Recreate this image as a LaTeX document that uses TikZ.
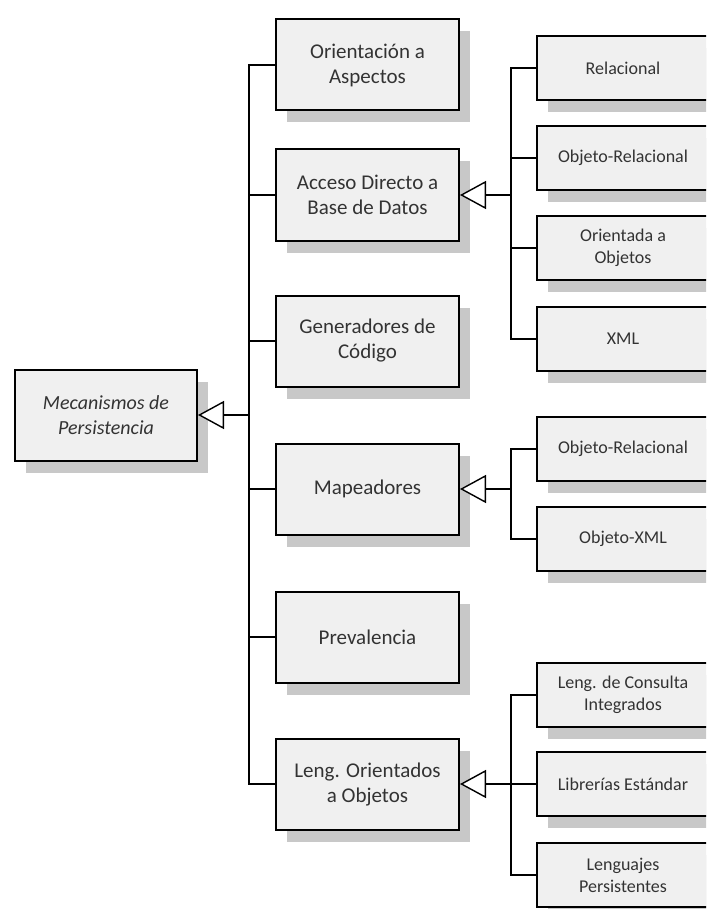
\documentclass[tikz,border=0pt]{standalone}
\usepackage{fontspec}
\setmainfont{Carlito}
\usetikzlibrary{arrows.meta,shadows}
\definecolor{boxfill}{HTML}{F0F0F0}
\definecolor{shadowgray}{HTML}{C8C8C8}
\definecolor{txt}{HTML}{333333}
\tikzset{
  basebox/.style={draw=black, line width=2pt, fill=boxfill, text=txt, align=center,
    inner sep=0pt,
    drop shadow={shadow xshift=11pt, shadow yshift=-12pt, fill=shadowgray, opacity=1}},
  rootbox/.style={basebox, minimum width=182pt, minimum height=91pt,
    font=\fontsize{20}{25}\selectfont\itshape},
  midbox/.style={basebox, minimum width=183pt, minimum height=91pt,
    font=\fontsize{21}{25}\selectfont},
  leafbox/.style={basebox, minimum width=172pt, minimum height=64pt,
    font=\fontsize{18}{22}\selectfont},
  wire/.style={line width=2pt, draw=black},
  gen/.style={wire, -{Triangle[length=26pt, width=28pt, fill=white, line width=1.4pt]}}
}
\begin{document}
\begin{tikzpicture}[x=1pt, y=-1pt]
\useasboundingbox (0,0) rectangle (706,909);
\fill[white] (0,0) rectangle (706,909);
\clip (0,0) rectangle (706,909);

% root of the hierarchy
\node[rootbox] (root) at (106,415) {Mecanismos de\\Persistencia};

% first level
\node[midbox] (aop)  at (367.5,65) {Orientación a\\Aspectos};
\node[midbox] (adb)  at (367.5,195) {Acceso Directo a\\Base de Datos};
\node[midbox] (gen)  at (367.5,341) {Generadores de\\Código};
\node[midbox] (map)  at (367.5,489) {Mapeadores};
\node[midbox] (prev) at (367.5,637) {Prevalencia};
\node[midbox] (loo)  at (367.5,784) {Leng. Orientados\\a Objetos};

% databases
\node[leafbox] (rel)  at (623,68)  {Relacional};
\node[leafbox] (orel) at (623,158) {Objeto-Relacional};
\node[leafbox] (oobj) at (623,248) {Orientada a\\Objetos};
\node[leafbox] (xml)  at (623,339) {XML};

% mappers
\node[leafbox] (morel) at (623,449) {Objeto-Relacional};
\node[leafbox] (mxml)  at (623,539) {Objeto-XML};

% object oriented languages
\node[leafbox] (lci)  at (623,695) {Leng. de Consulta\\Integrados};
\node[leafbox] (lib)  at (623,784) {Librerías Estándar};
\node[leafbox] (lpe)  at (623,875) {Lenguajes\\Persistentes};

% junction points of the buses
\coordinate (busR) at (249,415);
\coordinate (busA) at (511,195);
\coordinate (busM) at (511,489);
\coordinate (busL) at (511,784);

% main bus
\foreach \n in {aop,adb,gen,map,prev,loo}
  \draw[wire] (busR) |- (\n.west);
\draw[gen] (busR) -- (root.east);

% database bus
\foreach \n in {rel,orel,oobj,xml}
  \draw[wire] (busA) |- (\n.west);
\draw[gen] (busA) -- (adb.east);

% mapper bus
\foreach \n in {morel,mxml}
  \draw[wire] (busM) |- (\n.west);
\draw[gen] (busM) -- (map.east);

% language bus
\foreach \n in {lci,lib,lpe}
  \draw[wire] (busL) |- (\n.west);
\draw[gen] (busL) -- (loo.east);
\end{tikzpicture}
\end{document}
